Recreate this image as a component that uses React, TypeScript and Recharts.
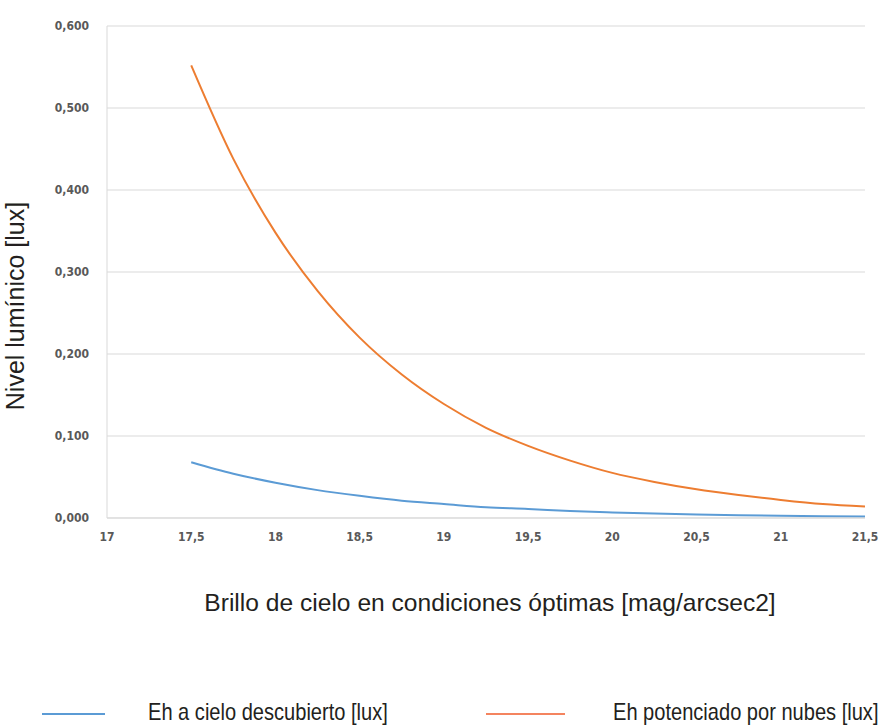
import { LineChart, Line, CartesianGrid, XAxis, YAxis, Legend } from "recharts";

const brillo = [17.5, 17.75, 18, 18.25, 18.5, 18.75, 19, 19.25, 19.5, 19.75, 20, 20.25, 20.5, 20.75, 21, 21.25, 21.5];
const cieloDescubierto = [0.068, 0.054, 0.043, 0.034, 0.027, 0.021, 0.017, 0.013, 0.011, 0.0085, 0.0068, 0.0054, 0.0043, 0.0034, 0.0027, 0.0021, 0.0017];
const potenciadoNubes = [0.552, 0.438, 0.348, 0.277, 0.22, 0.175, 0.139, 0.11, 0.088, 0.07, 0.055, 0.044, 0.035, 0.028, 0.022, 0.017, 0.014];
const xTicks = [17, 17.5, 18, 18.5, 19, 19.5, 20, 20.5, 21, 21.5];
const yTicks = [0, 0.1, 0.2, 0.3, 0.4, 0.5, 0.6];

const data = brillo.map((b, i) => ({
  brillo: b,
  descubierto: cieloDescubierto[i],
  nubes: potenciadoNubes[i],
}));

const AZUL = "#5b9bd5";
const NARANJA = "#ed7d31";
const tickFont = { fontFamily: "'DejaVu Sans Condensed', 'Liberation Sans', sans-serif", fontSize: 12, fontWeight: 700, fill: "#595959" };
const textFont = "'Liberation Sans', Arial, sans-serif";

// texto de leyenda algo comprimido, como en el original
const legendText = { position: "absolute" as const, top: 0, lineHeight: "30px", whiteSpace: "nowrap" as const, transform: "scaleX(0.836)", transformOrigin: "left center" };

const LegendContent = () => (
  <div style={{ position: "relative", width: 880, height: 30, fontFamily: textFont, fontSize: 24, color: "#231f20" }}>
    <div style={{ position: "absolute", left: 42, top: 16, width: 63, height: 2, background: AZUL }} />
    <div style={{ ...legendText, left: 148 }}>Eh a cielo descubierto [lux]</div>
    <div style={{ position: "absolute", left: 486, top: 16, width: 79, height: 2, background: "#f4845f" }} />
    <div style={{ ...legendText, left: 613 }}>Eh potenciado por nubes [lux]</div>
  </div>
);

export default function App() {
  return (
    <div style={{ position: "absolute", left: 0, top: 0, width: 880, height: 727, background: "#fff" }}>
      <LineChart width={880} height={727} data={data} margin={{ top: 26, left: 47, right: 15, bottom: 149 }}>
        <CartesianGrid stroke="#d9d9d9" vertical={false} />
        <XAxis
          dataKey="brillo"
          type="number"
          domain={[17, 21.5]}
          ticks={xTicks}
          height={30}
          tickLine={false}
          stroke="#d9d9d9"
          tickMargin={8}
          tick={tickFont}
          tickFormatter={(v: number) => String(v).replace(".", ",")}
        />
        <YAxis
          type="number"
          domain={[0, 0.6]}
          ticks={yTicks}
          width={60}
          tickLine={false}
          stroke="#d9d9d9"
          tickMargin={12}
          tick={tickFont}
          tickFormatter={(v: number) => v.toFixed(3).replace(".", ",")}
        />
        <Line type="monotone" dataKey="descubierto" stroke={AZUL} strokeWidth={2} dot={false} isAnimationActive={false} />
        <Line type="monotone" dataKey="nubes" stroke={NARANJA} strokeWidth={2} dot={false} isAnimationActive={false} />
        <Legend verticalAlign="bottom" wrapperStyle={{ left: 0, bottom: 0, width: 880 }} content={<LegendContent />} />
      </LineChart>
      <div style={{ position: "absolute", left: 0, width: 980, top: 589, lineHeight: "28px", textAlign: "center", fontFamily: textFont, fontSize: 24.6, color: "#231f20", whiteSpace: "nowrap" }}>
        Brillo de cielo en condiciones óptimas [mag/arcsec2]
      </div>
      <div
        style={{
          position: "absolute",
          left: 15,
          top: 306,
          transform: "translate(-50%, -50%) rotate(-90deg)",
          fontFamily: textFont,
          fontSize: 25,
          color: "#231f20",
          whiteSpace: "nowrap",
        }}
      >
        Nivel lumínico [lux]
      </div>
    </div>
  );
}
